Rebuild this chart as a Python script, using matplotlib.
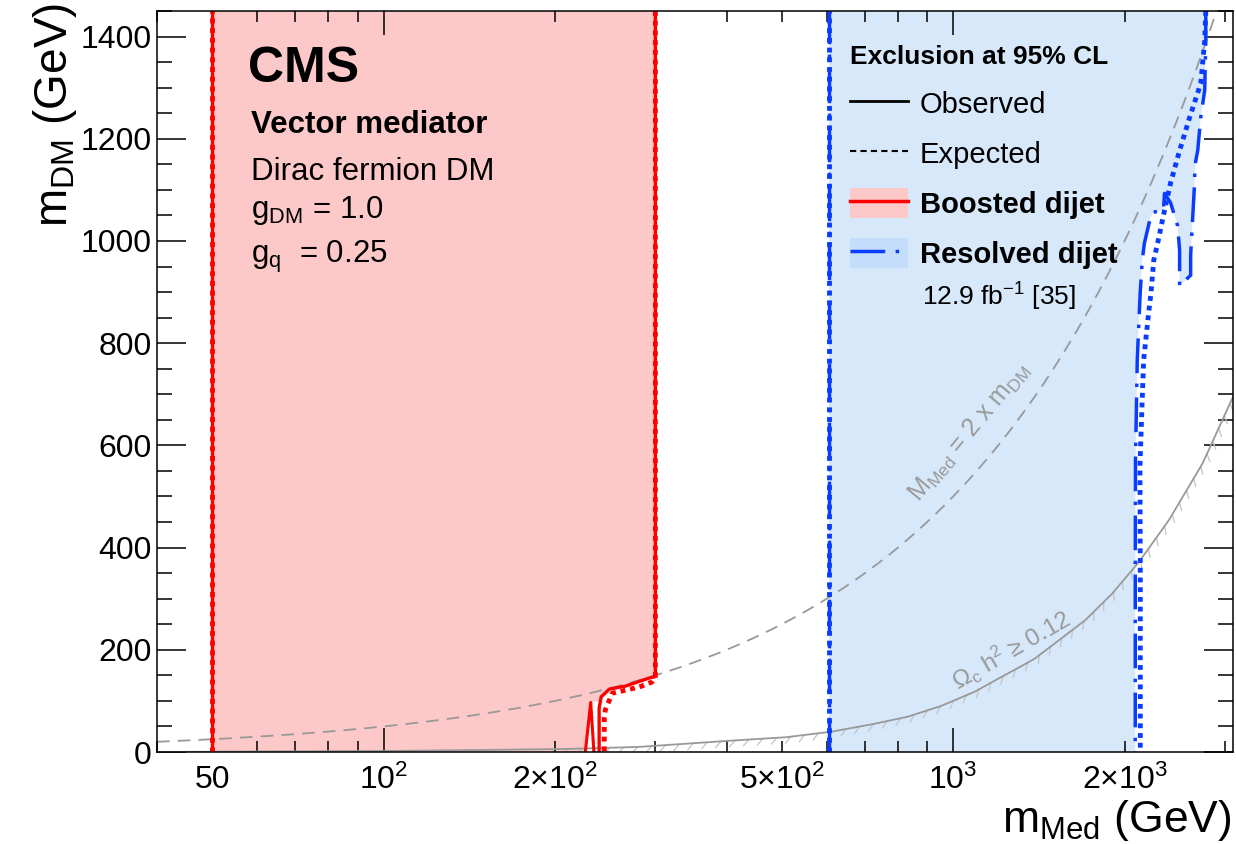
import numpy as np
import matplotlib
matplotlib.use("Agg")
import matplotlib.pyplot as plt
from matplotlib.lines import Line2D
from matplotlib.patches import Patch
from matplotlib import patheffects

plt.rcParams["font.family"] = ["Liberation Sans", "DejaVu Sans"]
plt.rcParams["mathtext.fontset"] = "custom"
plt.rcParams["mathtext.rm"] = "Liberation Sans"
plt.rcParams["mathtext.it"] = "Liberation Sans:italic"
plt.rcParams["mathtext.bf"] = "Liberation Sans:bold"

# axis ranges (GeV)
mmed_range = [40, 3100]
mdm_range = [0, 1450]

# boosted dijet: left edge, observed right edge + small spike, expected right edge
boost_left = 50
boost_obs_mmed = [300, 300, 299, 293, 266, 249, 241, 239, 239]
boost_obs_mdm = [1450, 150, 147, 145, 129, 123, 108, 86, 0]
boost_spike_mmed = [226, 231, 234]
boost_spike_mdm = [0, 97, 0]
boost_exp_mmed = [300, 300, 296, 281, 266, 252, 245, 244, 244]
boost_exp_mdm = [1450, 147, 137, 127, 121, 115, 82, 68, 0]

# resolved dijet: left edge, observed right edge, expected right edge
res_left = 605
res_obs_mmed = [2777, 2777, 2765, 2721, 2688, 2660, 2650, 2640, 2612, 2612, 2498,
                2498, 2478, 2408, 2350, 2340, 2240, 2220, 2166, 2148, 2130, 2105,
                2090, 2088, 2088]
res_obs_mdm = [1450, 1390, 1295, 1242, 1177, 1150, 1100, 1066, 972, 933, 912,
               982, 1030, 1075, 1093, 1060, 1056, 1046, 995, 962, 898, 767,
               571, 323, 0]
res_exp_mmed = [2777, 2765, 2721, 2602, 2498, 2408, 2340, 2290, 2250, 2225, 2200,
                2160, 2148, 2128, 2131, 2131]
res_exp_mdm = [1450, 1392, 1308, 1242, 1177, 1113, 1050, 1000, 962, 898, 851,
               767, 692, 560, 330, 0]

# relic density curve (Omega_c h^2 = 0.12)
relic_mmed = [40, 60, 100, 150, 211, 281, 405, 510, 613, 726, 832, 952, 1091,
              1216, 1318, 1392, 1706, 1902, 2120, 2393, 2742, 3100]
relic_mdm = [0, 1, 2, 4, 6, 10, 22, 29, 40, 55, 69, 90, 118, 147, 168, 183, 258,
             310, 372, 454, 565, 695]

xtick_major = [100, 1000]
xtick_major_labels = ["10$^{2}$", "10$^{3}$"]
xtick_minor = [40, 50, 60, 70, 80, 90, 200, 300, 400, 500, 600, 700, 800, 900,
               2000, 3000]
xtick_minor_labels = {50: "50", 200: "2×10$^{2}$", 500: "5×10$^{2}$",
                      2000: "2×10$^{3}$"}

red = "#ff0000"
pink = "#fcc8c8"
blue = "#0a3cff"
lightblue = "#d7e8fa"
gray = "#999999"

fig = plt.figure(figsize=(12.36, 8.44), dpi=100)
ax = fig.add_axes([157 / 1236, 1 - 752 / 844, 1076 / 1236, 741 / 844])
ax.set_xscale("log")
ax.set_xlim(mmed_range)
ax.set_ylim(mdm_range)

# filled exclusion regions
boost_fill_x = [boost_left, boost_left] + boost_obs_mmed[:7] + [240, 231, 226]
boost_fill_y = [0, 1450] + boost_obs_mdm[:7] + [100, 97, 0]
ax.fill(boost_fill_x, boost_fill_y, color=pink, lw=0, zorder=1)
res_fill_x = [res_left, res_left] + res_obs_mmed
res_fill_y = [0, 1450] + res_obs_mdm
ax.fill(res_fill_x, res_fill_y, color=lightblue, lw=0, zorder=1)

# reference curves
mline = np.geomspace(mmed_range[0], mmed_range[1], 200)
ax.plot(mline, mline / 2, color=gray, lw=1.3, dashes=(7, 4.5), zorder=2)
ax.plot(relic_mmed, relic_mdm, color=gray, lw=1.3, zorder=2,
        path_effects=[patheffects.TickedStroke(spacing=10, angle=-135, length=0.6,
                                               foreground="#c4c4c4", linewidth=0.9),
                      patheffects.Normal()])

# boosted contours
ax.plot([boost_left, boost_left], mdm_range, color=red, lw=2.4, zorder=3)
ax.plot([boost_left, boost_left], mdm_range, color=red, lw=3.5, ls=(0, (1, 1)), zorder=3)
ax.plot(boost_obs_mmed, boost_obs_mdm, color=red, lw=2.4, zorder=3)
ax.plot(boost_spike_mmed, boost_spike_mdm, color=red, lw=2.2, zorder=3)
ax.plot(boost_exp_mmed, boost_exp_mdm, color=red, lw=3.5, ls=(0, (1, 1)), zorder=3)

# resolved contours
res_dash = (0, (10, 3, 1, 3))
ax.plot([res_left, res_left], mdm_range, color=blue, lw=2.5, ls=res_dash, zorder=3)
ax.plot([res_left, res_left], mdm_range, color=blue, lw=3.5, ls=(0, (1, 1)), zorder=3)
ax.plot(res_obs_mmed, res_obs_mdm, color=blue, lw=2.5, ls=res_dash, zorder=3)
ax.plot(res_exp_mmed, res_exp_mdm, color=blue, lw=3.5, ls=(0, (1, 1)), zorder=3)

# ticks
ax.set_xticks(xtick_major, labels=xtick_major_labels)
ax.set_xticks(xtick_minor, labels=[xtick_minor_labels.get(t, "") for t in xtick_minor],
              minor=True)
ax.set_yticks(np.arange(0, 1401, 200))
ax.set_yticks(np.arange(0, 1451, 50), minor=True)
ax.tick_params(which="both", direction="in", top=True, right=True, labelsize=23,
               width=1.1, color="black")
ax.tick_params(axis="y", which="major", length=21, pad=4)
ax.tick_params(axis="y", which="minor", length=11)
ax.tick_params(axis="x", which="major", length=17, pad=9)
ax.tick_params(axis="x", which="minor", length=8, pad=9)
for sp in ax.spines.values():
    sp.set_linewidth(1.1)
    sp.set_zorder(5)

# axis titles
fig.text(55 / 1236, 1 - 3 / 844, r"m$_{\rm DM}$ (GeV)", rotation=90, fontsize=33,
         ha="center", va="top")
fig.text(1232 / 1236, 1 / 844, r"m$_{\rm Med}$ (GeV)", fontsize=32,
         ha="right", va="bottom")

# labels inside the frame
ax.text(0.0846, 0.904, "CMS", transform=ax.transAxes, fontsize=36,
        fontweight="bold", va="baseline")
ax.text(0.0876, 0.835, "Vector mediator", transform=ax.transAxes, fontsize=22.5,
        fontweight="bold", va="baseline")
ax.text(0.0876, 0.772, "Dirac fermion DM", transform=ax.transAxes, fontsize=22.5,
        va="baseline")
ax.text(0.0876, 0.7206, r"g$_{\rm DM}$ = 1.0", transform=ax.transAxes, fontsize=22.5,
        va="baseline")
ax.text(0.0876, 0.660, r"g$_{\rm q}$  = 0.25", transform=ax.transAxes, fontsize=22.5,
        va="baseline")
ax.text(0.711, 0.603, r"12.9 fb$^{-1}$ [35]", transform=ax.transAxes, fontsize=19,
        va="baseline")

ax.text(1067, 626, r"M$_{\rm Med}$ = 2 x m$_{\rm DM}$", color=gray, fontsize=18,
        rotation=50, rotation_mode="anchor", ha="center", va="center", zorder=2)
ax.text(1266, 199, r"Ω$_{\rm c}$ h$^{2}$ ≥ 0.12", color=gray, fontsize=17.5,
        rotation=30, rotation_mode="anchor", ha="center", va="center", zorder=2)

# legend
handles = [
    Line2D([], [], color="black", lw=2),
    Line2D([], [], color="black", lw=1.5, ls=(0, (3, 2))),
    (Patch(facecolor=pink, edgecolor="none"), Line2D([], [], color=red, lw=2.5)),
    (Patch(facecolor="#c3ddfa", edgecolor="none"),
     Line2D([], [], color=blue, lw=2.5, ls=res_dash)),
]
labels = ["Observed", "Expected", "Boosted dijet", "Resolved dijet"]
leg = ax.legend(handles, labels, loc="upper left", bbox_to_anchor=(0.644, 0.954),
                frameon=False, fontsize=21, title="Exclusion at 95% CL",
                title_fontproperties={"weight": "bold", "size": 19},
                alignment="left", handlelength=2.0, handleheight=1.2,
                handletextpad=0.4, labelspacing=0.66, borderpad=0, borderaxespad=0)
leg.get_texts()[2].set_fontweight("bold")
leg.get_texts()[3].set_fontweight("bold")
leg.set_zorder(6)

fig.savefig("out.png", dpi=100)
